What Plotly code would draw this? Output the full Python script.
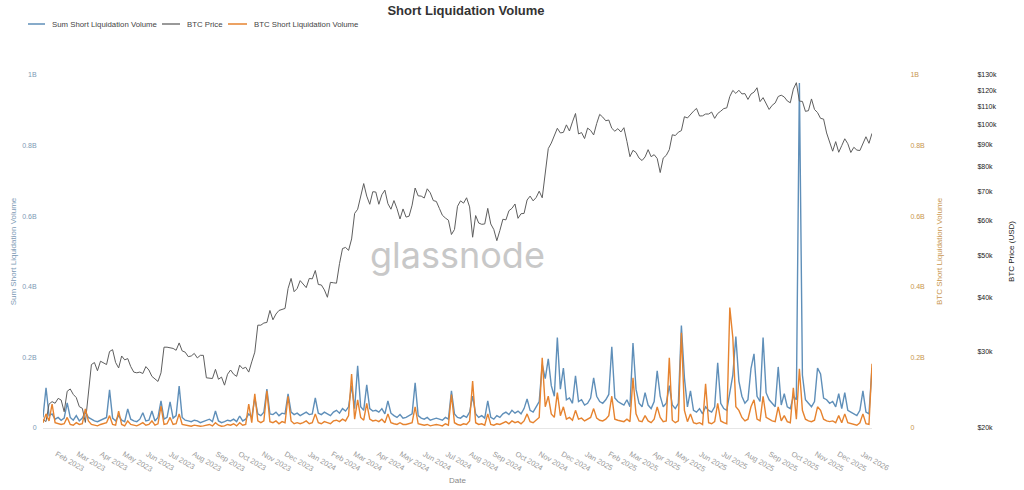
import math
import pandas as pd
import plotly.graph_objects as go

# ---------------- data ----------------
# Everything is sampled every 4 days starting 2023-01-14
start_date = "2023-01-14"
step = "4D"

btc_price = [
    20900, 20700, 22700, 23000, 22800, 23400, 23200, 21800, 24300, 24600,
    23900, 23500, 22400, 22200, 20600, 24400, 28000, 28300, 27100, 28500,
    28200, 28000, 30000, 30300, 28300, 27500, 29300, 28700, 28900, 27700,
    26900, 26800, 26900, 26700, 27700, 27200, 26300, 25900, 25600, 26800,
    30700, 30700, 30600, 30500, 30200, 31400, 30100, 29900, 29200, 29300,
    29700, 29000, 29400, 29400, 26100, 26000, 26000, 27300, 25900, 26200,
    25100, 26600, 27200, 26600, 26300, 27900, 27400, 27600, 26900, 28400,
    29900, 34500, 34500, 34900, 35000, 37300, 35500, 36600, 37300, 37500,
    37700, 41900, 44200, 41200, 41900, 43700, 43000, 42100, 44200, 44100,
    46100, 42800, 42700, 41600, 40000, 43300, 43200, 43100, 47800, 51800,
    52100, 51300, 54500, 62400, 63800, 68300, 73100, 68400, 65500, 70000,
    69900, 65500, 68900, 70600, 65700, 63800, 66800, 64000, 60600, 63900,
    61200, 61500, 65200, 71400, 68500, 68400, 67700, 71100, 69600, 66800,
    66500, 64100, 61800, 60900, 60200, 55800, 57300, 64800, 66700, 65900,
    67800, 64600, 55000, 61700, 59300, 58900, 59000, 64100, 59000, 57300,
    54000, 57000, 60500, 60300, 63300, 64100, 65600, 60800, 62300, 62400,
    67000, 68400, 66700, 67900, 70200, 67800, 76500, 88000, 90600, 94300,
    98000, 95600, 95900, 99800, 96600, 101400, 106000, 95100, 95800, 92800,
    98100, 96900, 94600, 100500, 105500, 104000, 102000, 102400, 98000, 96500,
    97800, 96100, 98300, 91400, 84300, 87200, 86200, 83700, 82600, 84200,
    87500, 84300, 85200, 83500, 77500, 83700, 84900, 87500, 94700, 94300,
    96000, 96800, 104200, 103500, 105600, 107300, 108900, 104600, 104700, 105700,
    105700, 106800, 103300, 106000, 107300, 108800, 109200, 116000, 119800, 117900,
    119900, 117600, 117800, 114200, 117500, 118700, 121500, 112900, 115300, 111200,
    108300, 110700, 112100, 116000, 116800, 115700, 113300, 112200, 120600, 124800,
    113200, 113000, 107200, 107600, 114500, 108300, 106500, 103300, 102900, 95600,
    91500, 86800, 91300, 86300, 89400, 92700, 90300, 86200, 88600, 87300,
    87100, 90000, 93700, 90500, 95400,
]

# Short liquidation volumes (millions USD)
sum_short_liq_m = [
    30, 114, 35, 40, 25, 30, 22, 28, 71, 30,
    22, 35, 20, 28, 45, 30, 25, 20, 18, 22,
    25, 30, 108, 28, 20, 35, 22, 18, 54, 25,
    20, 18, 25, 43, 20, 22, 48, 20, 30, 77,
    25, 30, 74, 28, 35, 119, 30, 22, 20, 18,
    22, 20, 15, 18, 20, 25, 18, 48, 20, 15,
    18, 22, 20, 25, 18, 34, 20, 25, 40, 30,
    85, 40, 35, 45, 110, 40, 38, 45, 35, 42,
    40, 97, 45, 38, 42, 35, 40, 45, 38, 40,
    85, 42, 38, 45, 40, 35, 45, 50, 42, 55,
    48, 60, 120, 55, 176, 60, 50, 122, 55, 48,
    50, 45, 55, 40, 77, 42, 35, 30, 38, 28,
    30, 35, 40, 128, 35, 28, 25, 30, 22, 25,
    28, 25, 22, 30, 25, 105, 40, 30, 28, 35,
    30, 45, 90, 40, 30, 35, 28, 77, 30, 25,
    35, 30, 40, 45, 38, 50, 42, 48, 40, 55,
    82, 50, 45, 60, 75, 180, 140, 196, 120, 90,
    256, 110, 170, 80, 85, 70, 148, 75, 80, 65,
    70, 85, 142, 90, 75, 70, 80, 95, 230, 85,
    75, 70, 65, 80, 60, 241, 110, 70, 60, 100,
    65, 55, 75, 162, 90, 60, 70, 120, 65, 55,
    70, 290, 142, 60, 105, 50, 45, 55, 40, 60,
    50, 45, 60, 185, 70, 55, 50, 100, 150, 259,
    133, 90, 70, 80, 168, 210, 90, 75, 256, 100,
    80, 70, 60, 173, 65, 97, 60, 55, 90, 80,
    977, 150, 80, 70, 60, 75, 170, 153, 85, 80,
    70, 75, 60, 97, 55, 100, 50, 45, 40, 35,
    50, 105, 45, 40, 170,
]
btc_short_liq_m = [
    15, 40, 20, 68, 15, 12, 10, 12, 30, 10,
    8, 15, 10, 12, 54, 20, 10, 8, 6, 10,
    12, 15, 35, 10, 8, 48, 10, 6, 20, 10,
    8, 6, 10, 15, 8, 10, 20, 8, 12, 62,
    10, 12, 30, 10, 12, 40, 10, 8, 6, 5,
    8, 6, 5, 6, 8, 10, 6, 15, 8, 5,
    6, 10, 8, 12, 6, 15, 8, 10, 68, 15,
    97, 20, 15, 20, 105, 18, 15, 20, 12, 18,
    15, 90, 20, 12, 15, 12, 15, 20, 12, 15,
    40, 15, 12, 18, 15, 12, 20, 22, 18, 25,
    20, 35, 153, 25, 80, 30, 22, 70, 25, 20,
    22, 18, 25, 15, 40, 15, 12, 10, 15, 10,
    10, 12, 15, 60, 12, 10, 8, 10, 6, 8,
    10, 8, 6, 12, 8, 95, 15, 10, 8, 12,
    10, 20, 133, 15, 10, 12, 8, 40, 10, 8,
    12, 10, 15, 18, 12, 20, 15, 18, 12, 20,
    40, 18, 15, 22, 30, 199, 60, 90, 40, 30,
    100, 35, 60, 25, 30, 22, 50, 25, 28, 20,
    25, 30, 55, 28, 22, 20, 25, 35, 90, 25,
    22, 20, 18, 25, 18, 142, 40, 20, 18, 35,
    20, 15, 25, 60, 30, 18, 20, 199, 22, 15,
    20, 270, 50, 18, 40, 15, 12, 15, 10, 125,
    15, 12, 18, 70, 20, 15, 12, 341, 256, 60,
    50, 30, 20, 25, 60, 80, 25, 20, 90, 30,
    25, 20, 18, 60, 20, 35, 18, 15, 114, 25,
    168, 50, 25, 20, 18, 22, 60, 50, 25, 20,
    18, 20, 15, 35, 15, 40, 15, 12, 10, 8,
    15, 40, 12, 10, 182,
]

series_names = ["Sum Short Liquidation Volume", "BTC Price", "BTC Short Liquidation Volume"]
vol_ticks = [0, 0.2e9, 0.4e9, 0.6e9, 0.8e9, 1e9]
vol_tick_text = ["0", "0.2B", "0.4B", "0.6B", "0.8B", "1B"]
price_ticks = [20000, 30000, 40000, 50000, 60000, 70000, 80000, 90000,
               100000, 110000, 120000, 130000]
price_tick_text = ["$20k", "$30k", "$40k", "$50k", "$60k", "$70k", "$80k",
                   "$90k", "$100k", "$110k", "$120k", "$130k"]

# ---------------- build ----------------
dates = pd.date_range(start_date, periods=len(btc_price), freq=step)
sum_vals = [v * 1e6 for v in sum_short_liq_m]
btc_vals = [v * 1e6 for v in btc_short_liq_m]

BLUE = "#5f8fb9"
ORANGE = "#e6832f"
GRAY = "#5e5e5e"
BLUE_TXT = "#7d9ab5"
ORANGE_TXT = "#c8964f"
FONT = "Liberation Sans, Arial, sans-serif"
CLEAR = "rgba(0,0,0,0)"

fig = go.Figure()
fig.add_trace(go.Scatter(x=dates, y=sum_vals, name=series_names[0],
                         mode="lines", line=dict(color=BLUE, width=1.4), yaxis="y"))
fig.add_trace(go.Scatter(x=dates, y=btc_price, name=series_names[1],
                         mode="lines", line=dict(color=GRAY, width=1), yaxis="y2"))
fig.add_trace(go.Scatter(x=dates, y=btc_vals, name=series_names[2],
                         mode="lines", line=dict(color=ORANGE, width=1.4), yaxis="y3"))

L, R, T, B = 43, 51, 75, 62
paper_w = 1024 - L - R
paper_h = 490 - T - B
x_end = (872 - L) / paper_w


def px_x(px):
    return (px - L) / paper_w


def px_y(py):
    return (490 - B - py) / paper_h


fig.update_layout(
    width=1024, height=490,
    margin=dict(l=L, r=R, t=T, b=B, autoexpand=False),
    paper_bgcolor="white", plot_bgcolor="white",
    font=dict(family=FONT, size=8, color="#444"),
    title=dict(text="<b>Short Liquidation Volume</b>", x=466 / 1024, xref="container",
               xanchor="center", y=1 - 10 / 490, yref="container", yanchor="middle",
               font=dict(size=13, color="#333", family=FONT)),
    showlegend=False,
    xaxis=dict(domain=[0, x_end], type="date", automargin=False,
               range=[dates[0], dates[-1]],
               tick0="2023-02-01", dtick="M1", tickformat="%b %Y", tickangle=30,
               tickfont=dict(size=7.5, color="#9a9a9a"), ticklabelstandoff=18,
               title=dict(text="Date", font=dict(size=8, color="#888"), standoff=4),
               showgrid=False, zeroline=False, showline=True, linecolor="#e6e6e6",
               ticks=""),
    yaxis=dict(range=[0, 1e9], tickvals=vol_ticks, ticktext=vol_tick_text,
               automargin=False,
               tickfont=dict(size=7, color=BLUE_TXT),
               ticks="outside", ticklen=4, tickcolor=CLEAR,
               title=dict(text=series_names[0], font=dict(size=8, color=BLUE_TXT), standoff=4),
               showgrid=False, zeroline=False, showline=False),
    yaxis2=dict(overlaying="y", side="right", anchor="free", position=1.0, type="log",
                automargin=False,
                range=[math.log10(20000), math.log10(130000)],
                tickvals=price_ticks, ticktext=price_tick_text,
                tickfont=dict(size=7, color="#222"),
                ticks="outside", ticklen=2, tickcolor=CLEAR,
                title=dict(text="BTC Price (USD)", font=dict(size=8, color="#222"), standoff=12),
                showgrid=False, zeroline=False, showline=False),
    yaxis3=dict(overlaying="y", side="right", anchor="free",
                position=px_x(904), automargin=False,
                range=[0, 1e9], tickvals=vol_ticks, ticktext=vol_tick_text,
                tickfont=dict(size=7, color=ORANGE_TXT),
                ticks="outside", ticklen=4, tickcolor=CLEAR,
                title=dict(text=series_names[2], font=dict(size=8, color=ORANGE_TXT), standoff=12),
                showgrid=False, zeroline=False, showline=False),
)

# custom legend (line sample + label) at the top-left
legend_items = [
    (series_names[0], BLUE, 28, 45, 50),
    (series_names[1], "#777777", 162, 180, 185),
    (series_names[2], ORANGE, 228, 247, 252),
]
for name, color, x0, x1, xt in legend_items:
    fig.add_shape(type="line", xref="paper", yref="paper",
                  x0=px_x(x0), x1=px_x(x1), y0=px_y(24), y1=px_y(24),
                  line=dict(color=color, width=1.5))
    fig.add_annotation(text=name, xref="paper", yref="paper", x=px_x(xt), y=px_y(24),
                       xanchor="left", yanchor="middle", showarrow=False,
                       font=dict(size=7.8, color="#444", family=FONT))

fig.add_annotation(text="glassnode", xref="paper", yref="paper",
                   x=px_x(457.5), y=px_y(255),
                   xanchor="center", yanchor="middle", showarrow=False,
                   font=dict(size=36, color="#c8c8c8", family="Inter, Lato, sans-serif"))

fig.write_html("out.html")
